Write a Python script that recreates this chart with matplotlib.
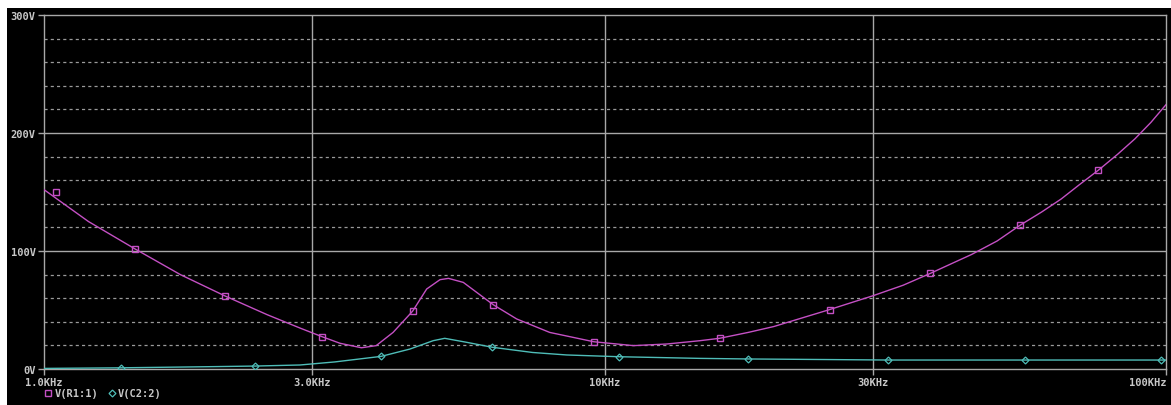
import matplotlib
matplotlib.use("Agg")
import matplotlib.pyplot as plt
from matplotlib.patches import Rectangle
from matplotlib.lines import Line2D

# data (frequency in kHz, voltage in V)
freq_r1 = [1.0, 1.2, 1.45, 1.75, 2.1, 2.5, 2.86, 3.13, 3.37, 3.68, 3.91,
           4.19, 4.54, 4.81, 5.08, 5.26, 5.59, 6.32, 6.96, 7.97, 9.55,
           11.24, 12.9, 14.77, 16, 18, 20, 22, 25, 30, 34, 38, 42, 45, 50,
           55, 60, 65, 70, 76, 82, 88, 94, 100]
v_r1 = [152, 125, 102, 80, 62, 46, 34.7, 27.4, 21.8, 18, 19.8,
        31, 49, 67.8, 75.7, 76.8, 73.4, 54.5, 42.4, 31, 23.1,
        19.8, 21.2, 24, 26, 31, 36, 42, 50, 62, 71, 81, 90.5, 97, 108.5,
        122, 133, 144, 156, 169, 182, 195, 209, 224]
mark_f_r1 = [1.05, 1.45, 2.1, 3.13, 4.54, 6.32, 9.55, 16, 25.2, 38, 55, 75.7]
mark_v_r1 = [150, 102, 62, 27.4, 49, 54.5, 23.1, 26, 50, 81, 122, 169]

freq_c2 = [1.0, 1.37, 2.0, 2.38, 2.86, 3.3, 3.99, 4.49, 4.94, 5.18, 5.67,
           6.3, 7.43, 8.54, 10.6, 14.77, 18, 25, 32, 56, 98, 100]
v_c2 = [0.5, 1, 2, 2.5, 3.4, 6, 10.7, 16.9, 24, 26, 22.6,
        18.4, 14, 11.9, 10.4, 9, 8.5, 8, 7.6, 7.6, 7.6, 7.6]
mark_f_c2 = [1.37, 2.38, 3.99, 6.3, 10.6, 18, 32, 56, 98]
mark_v_c2 = [1, 2.5, 10.7, 18.4, 10.4, 8.5, 7.6, 7.6, 7.6]

x_ticks = [1, 3, 10, 30, 100]
x_labels = ["1.0KHz", "3.0KHz", "10KHz", "30KHz", "100KHz"]
y_ticks = [0, 100, 200, 300]
y_labels = ["0V", "100V", "200V", "300V"]

# styling
c_r1 = "#c450c4"
c_c2 = "#4fbdb8"
c_grid = "#a8a8a8"
c_text = "#c8c8c8"
plt.rcParams["font.family"] = "DejaVu Sans Mono"
plt.rcParams["font.weight"] = "bold"
fs = 7.5

W, H = 1171, 406
fig = plt.figure(figsize=(W / 100, H / 100), dpi=100, facecolor="white")
# black screen area (the capture has a thin white edge top-left)
fig.patches.append(Rectangle((7 / W, 0), 1, 1 - 9 / H, transform=fig.transFigure,
                             facecolor="black", edgecolor="none", zorder=-5))

ax = fig.add_axes([44 / W, 36 / H, (1166 - 44) / W, (370 - 16) / H])
ax.set_facecolor("black")
ax.set_xscale("log")
ax.set_xlim(1, 100)
ax.set_ylim(0, 300)

# grid: solid majors, dashed minors
for v in [100, 200]:
    ax.axhline(v, color=c_grid, lw=1.0, zorder=1)
for v in list(range(20, 100, 20)) + list(range(120, 200, 20)) + list(range(220, 300, 20)):
    ax.axhline(v, color="#9a9a9a", lw=0.9, ls=(0, (2.5, 2.5)), zorder=1)
for f in [3, 10, 30]:
    ax.axvline(f, color=c_grid, lw=1.0, zorder=1)

ax.plot(freq_r1, v_r1, color=c_r1, lw=1.0, zorder=3)
ax.plot(mark_f_r1, mark_v_r1, ls="none", marker="s", ms=5, mfc="none",
        mec=c_r1, mew=1.0, zorder=4)
ax.plot(freq_c2, v_c2, color=c_c2, lw=1.0, zorder=3)
ax.plot(mark_f_c2, mark_v_c2, ls="none", marker="D", ms=3.5, mfc="none",
        mec=c_c2, mew=0.9, zorder=4)

for s in ax.spines.values():
    s.set_color(c_grid)
    s.set_linewidth(1.0)

ax.set_yticks(y_ticks)
ax.set_yticklabels(y_labels)
ax.set_xticks(x_ticks)
ax.set_xticklabels(x_labels)
ax.minorticks_off()
ax.tick_params(axis="both", colors=c_grid, labelcolor=c_text, labelsize=fs,
               length=4, width=1.0, direction="out", pad=2)
ax.get_xticklabels()[-1].set_horizontalalignment("right")

# legend row under the axis
fig.add_artist(Line2D([48 / W], [1 - 394 / H], ls="none", marker="s", ms=5,
                      mfc="none", mec=c_r1, mew=1.0, transform=fig.transFigure))
fig.text(55 / W, 1 - 394 / H, "V(R1:1)", color=c_text, fontsize=fs,
         va="center", ha="left")
fig.add_artist(Line2D([112 / W], [1 - 394 / H], ls="none", marker="D", ms=3.5,
                      mfc="none", mec=c_c2, mew=0.9, transform=fig.transFigure))
fig.text(118 / W, 1 - 394 / H, "V(C2:2)", color=c_text, fontsize=fs,
         va="center", ha="left")

fig.savefig("out.png", dpi=100, facecolor=fig.get_facecolor())
